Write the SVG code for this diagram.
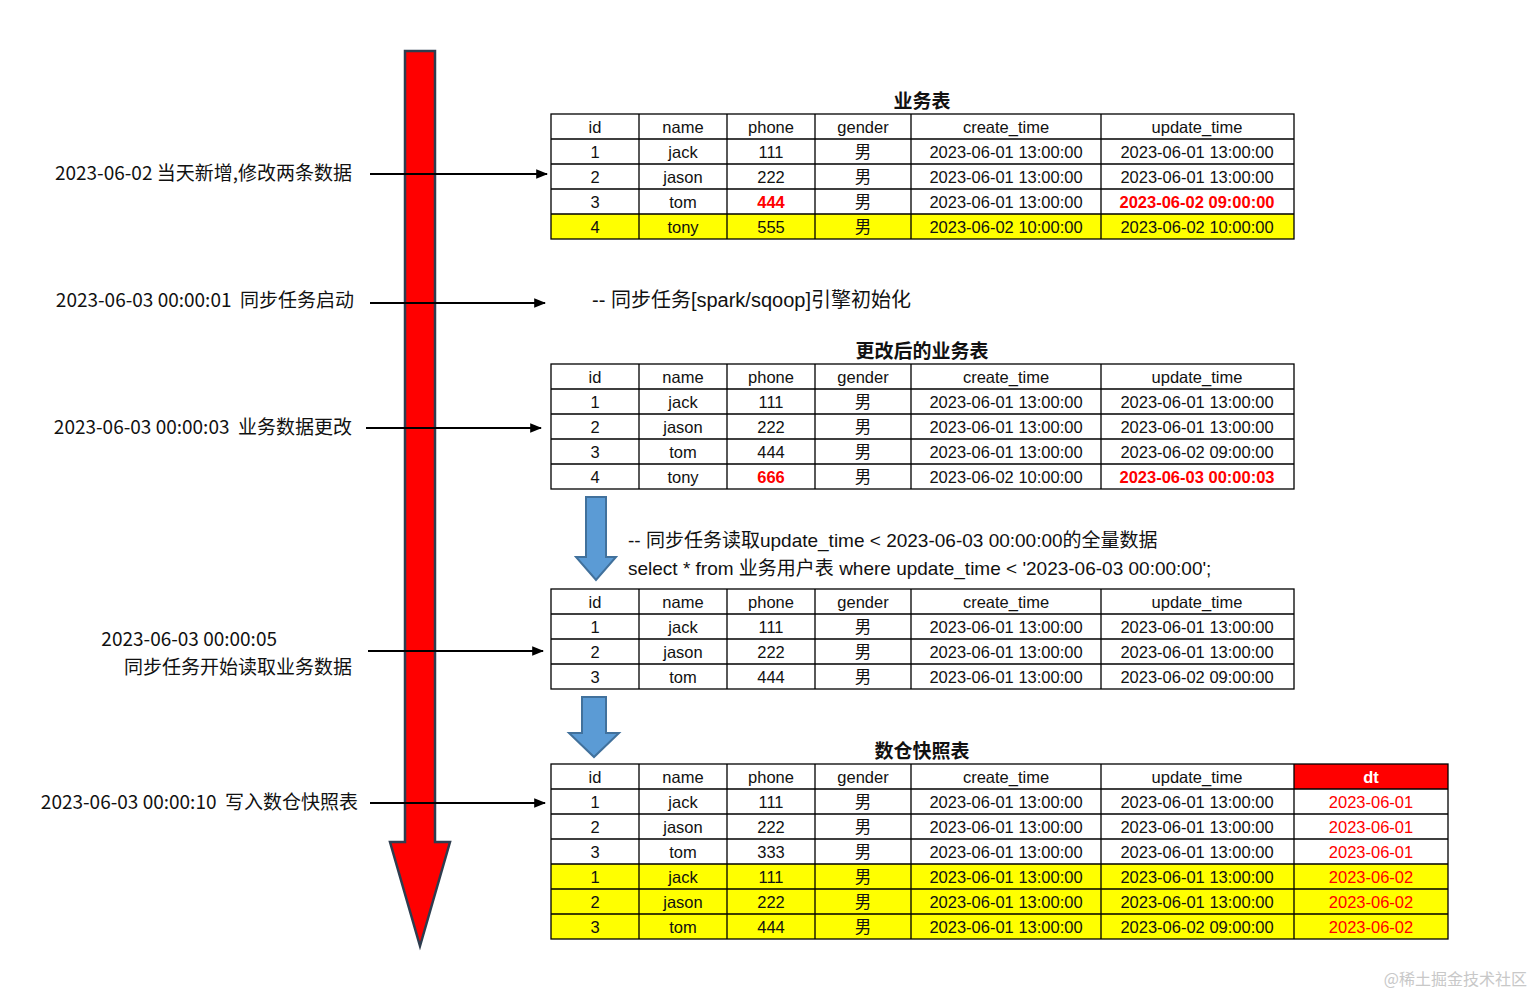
<svg xmlns="http://www.w3.org/2000/svg" width="1535" height="996" viewBox="0 0 1535 996">
<style>
text{font-family:"Liberation Sans","Noto Sans CJK SC",sans-serif;fill:#111}
.c{font-size:16.5px;text-anchor:middle}
.lbl{font-size:19px;text-anchor:end;white-space:pre;font-family:"Noto Sans CJK SC","Liberation Sans",sans-serif}
.ttl{font-size:19px;font-weight:bold;text-anchor:middle;font-family:"Noto Sans CJK SC",sans-serif}
.note{font-size:19px;white-space:pre;font-family:"Liberation Sans","Noto Sans CJK SC",sans-serif}
.red{fill:#ff0000;font-weight:bold}
.dt{fill:#ff0000}
.grid{fill:none;stroke:#000;stroke-width:1.3}
.yel{fill:#ffff00}
.conn{stroke:#000;stroke-width:2;fill:none;marker-end:url(#ah)}
.blue{fill:#5b9bd5;stroke:#41719c;stroke-width:2}
</style>
<defs>
<marker id="ah" viewBox="0 0 10 10" refX="9" refY="5" markerWidth="6" markerHeight="6" markerUnits="strokeWidth" orient="auto"><path d="M0,1 L10,5 L0,9 z" fill="#000"/></marker>
</defs>
<rect width="1535" height="996" fill="#fff"/>

<g id="timeline">
<path d="M405,51 H435 V842 H450 L420,946 L390,842 H405 Z" fill="#ff0000" stroke="#2e3d4f" stroke-width="2.5" stroke-linejoin="miter"/>
</g>

<g id="labels">
<text class="lbl" x="352" y="180" xml:space="preserve">2023-06-02 当天新增,修改两条数据</text>
<text class="lbl" x="354" y="307" xml:space="preserve">2023-06-03 00:00:01  同步任务启动</text>
<text class="lbl" x="352" y="434" xml:space="preserve">2023-06-03 00:00:03  业务数据更改</text>
<text class="lbl" x="277" y="646" xml:space="preserve">2023-06-03 00:00:05</text>
<text class="lbl" x="352" y="674" xml:space="preserve">同步任务开始读取业务数据</text>
<text class="lbl" x="358" y="809" xml:space="preserve">2023-06-03 00:00:10  写入数仓快照表</text>
</g>

<g id="connectors">
<line class="conn" x1="370" y1="174" x2="547" y2="174"/>
<line class="conn" x1="370" y1="303" x2="545" y2="303"/>
<line class="conn" x1="366" y1="428" x2="541" y2="428"/>
<line class="conn" x1="368" y1="651" x2="543" y2="651"/>
<line class="conn" x1="370" y1="803" x2="545" y2="803"/>
<path class="blue" d="M586,497 H606 V557 H616 L596,580 L576,557 H586 Z"/>
<path class="blue" d="M582,697 H606 V733 H619 L594,757 L569,733 H582 Z"/>
</g>

<g id="notes">
<text class="note" x="592" y="307" style="font-size:20px">-- 同步任务[spark/sqoop]引擎初始化</text>
<text class="note" x="628" y="547">-- 同步任务读取update_time &lt; 2023-06-03 00:00:00的全量数据</text>
<text class="note" x="628" y="575">select * from 业务用户表 where update_time &lt; '2023-06-03 00:00:00';</text>
</g>

<g id="table1">
<text class="ttl" x="922" y="108">业务表</text>
<rect class="yel" x="551" y="214" width="743" height="25"/>
<rect class="grid" x="551" y="114" width="743" height="125"/>
<path class="grid" d="M551,139H1294M551,164H1294M551,189H1294M551,214H1294M639,114V239M727,114V239M815,114V239M911,114V239M1101,114V239"/>
<text class="c" x="595" y="133">id</text><text class="c" x="683" y="133">name</text><text class="c" x="771" y="133">phone</text><text class="c" x="863" y="133">gender</text><text class="c" x="1006" y="133">create_time</text><text class="c" x="1197" y="133">update_time</text>
<text class="c" x="595" y="158">1</text><text class="c" x="683" y="158">jack</text><text class="c" x="771" y="158">111</text><text class="c" x="863" y="158">男</text><text class="c" x="1006" y="158">2023-06-01 13:00:00</text><text class="c" x="1197" y="158">2023-06-01 13:00:00</text>
<text class="c" x="595" y="183">2</text><text class="c" x="683" y="183">jason</text><text class="c" x="771" y="183">222</text><text class="c" x="863" y="183">男</text><text class="c" x="1006" y="183">2023-06-01 13:00:00</text><text class="c" x="1197" y="183">2023-06-01 13:00:00</text>
<text class="c" x="595" y="208">3</text><text class="c" x="683" y="208">tom</text><text class="c red" x="771" y="208">444</text><text class="c" x="863" y="208">男</text><text class="c" x="1006" y="208">2023-06-01 13:00:00</text><text class="c red" x="1197" y="208">2023-06-02 09:00:00</text>
<text class="c" x="595" y="233">4</text><text class="c" x="683" y="233">tony</text><text class="c" x="771" y="233">555</text><text class="c" x="863" y="233">男</text><text class="c" x="1006" y="233">2023-06-02 10:00:00</text><text class="c" x="1197" y="233">2023-06-02 10:00:00</text>
</g>

<g id="table2">
<text class="ttl" x="922" y="358">更改后的业务表</text>
<rect class="grid" x="551" y="364" width="743" height="125"/>
<path class="grid" d="M551,389H1294M551,414H1294M551,439H1294M551,464H1294M639,364V489M727,364V489M815,364V489M911,364V489M1101,364V489"/>
<text class="c" x="595" y="383">id</text><text class="c" x="683" y="383">name</text><text class="c" x="771" y="383">phone</text><text class="c" x="863" y="383">gender</text><text class="c" x="1006" y="383">create_time</text><text class="c" x="1197" y="383">update_time</text>
<text class="c" x="595" y="408">1</text><text class="c" x="683" y="408">jack</text><text class="c" x="771" y="408">111</text><text class="c" x="863" y="408">男</text><text class="c" x="1006" y="408">2023-06-01 13:00:00</text><text class="c" x="1197" y="408">2023-06-01 13:00:00</text>
<text class="c" x="595" y="433">2</text><text class="c" x="683" y="433">jason</text><text class="c" x="771" y="433">222</text><text class="c" x="863" y="433">男</text><text class="c" x="1006" y="433">2023-06-01 13:00:00</text><text class="c" x="1197" y="433">2023-06-01 13:00:00</text>
<text class="c" x="595" y="458">3</text><text class="c" x="683" y="458">tom</text><text class="c" x="771" y="458">444</text><text class="c" x="863" y="458">男</text><text class="c" x="1006" y="458">2023-06-01 13:00:00</text><text class="c" x="1197" y="458">2023-06-02 09:00:00</text>
<text class="c" x="595" y="483">4</text><text class="c" x="683" y="483">tony</text><text class="c red" x="771" y="483">666</text><text class="c" x="863" y="483">男</text><text class="c" x="1006" y="483">2023-06-02 10:00:00</text><text class="c red" x="1197" y="483">2023-06-03 00:00:03</text>
</g>

<g id="table3">
<rect class="grid" x="551" y="589" width="743" height="100"/>
<path class="grid" d="M551,614H1294M551,639H1294M551,664H1294M639,589V689M727,589V689M815,589V689M911,589V689M1101,589V689"/>
<text class="c" x="595" y="608">id</text><text class="c" x="683" y="608">name</text><text class="c" x="771" y="608">phone</text><text class="c" x="863" y="608">gender</text><text class="c" x="1006" y="608">create_time</text><text class="c" x="1197" y="608">update_time</text>
<text class="c" x="595" y="633">1</text><text class="c" x="683" y="633">jack</text><text class="c" x="771" y="633">111</text><text class="c" x="863" y="633">男</text><text class="c" x="1006" y="633">2023-06-01 13:00:00</text><text class="c" x="1197" y="633">2023-06-01 13:00:00</text>
<text class="c" x="595" y="658">2</text><text class="c" x="683" y="658">jason</text><text class="c" x="771" y="658">222</text><text class="c" x="863" y="658">男</text><text class="c" x="1006" y="658">2023-06-01 13:00:00</text><text class="c" x="1197" y="658">2023-06-01 13:00:00</text>
<text class="c" x="595" y="683">3</text><text class="c" x="683" y="683">tom</text><text class="c" x="771" y="683">444</text><text class="c" x="863" y="683">男</text><text class="c" x="1006" y="683">2023-06-01 13:00:00</text><text class="c" x="1197" y="683">2023-06-02 09:00:00</text>
</g>

<g id="table4">
<text class="ttl" x="922" y="758">数仓快照表</text>
<rect class="yel" x="551" y="864" width="897" height="75"/>
<rect x="1294" y="764" width="154" height="25" fill="#ff0000"/>
<rect class="grid" x="551" y="764" width="897" height="175"/>
<path class="grid" d="M551,789H1448M551,814H1448M551,839H1448M551,864H1448M551,889H1448M551,914H1448M639,764V939M727,764V939M815,764V939M911,764V939M1101,764V939M1294,764V939"/>
<text class="c" x="595" y="783">id</text><text class="c" x="683" y="783">name</text><text class="c" x="771" y="783">phone</text><text class="c" x="863" y="783">gender</text><text class="c" x="1006" y="783">create_time</text><text class="c" x="1197" y="783">update_time</text><text class="c" x="1371" y="783" style="fill:#fff;font-weight:bold">dt</text>
<text class="c" x="595" y="808">1</text><text class="c" x="683" y="808">jack</text><text class="c" x="771" y="808">111</text><text class="c" x="863" y="808">男</text><text class="c" x="1006" y="808">2023-06-01 13:00:00</text><text class="c" x="1197" y="808">2023-06-01 13:00:00</text><text class="c dt" x="1371" y="808">2023-06-01</text>
<text class="c" x="595" y="833">2</text><text class="c" x="683" y="833">jason</text><text class="c" x="771" y="833">222</text><text class="c" x="863" y="833">男</text><text class="c" x="1006" y="833">2023-06-01 13:00:00</text><text class="c" x="1197" y="833">2023-06-01 13:00:00</text><text class="c dt" x="1371" y="833">2023-06-01</text>
<text class="c" x="595" y="858">3</text><text class="c" x="683" y="858">tom</text><text class="c" x="771" y="858">333</text><text class="c" x="863" y="858">男</text><text class="c" x="1006" y="858">2023-06-01 13:00:00</text><text class="c" x="1197" y="858">2023-06-01 13:00:00</text><text class="c dt" x="1371" y="858">2023-06-01</text>
<text class="c" x="595" y="883">1</text><text class="c" x="683" y="883">jack</text><text class="c" x="771" y="883">111</text><text class="c" x="863" y="883">男</text><text class="c" x="1006" y="883">2023-06-01 13:00:00</text><text class="c" x="1197" y="883">2023-06-01 13:00:00</text><text class="c dt" x="1371" y="883">2023-06-02</text>
<text class="c" x="595" y="908">2</text><text class="c" x="683" y="908">jason</text><text class="c" x="771" y="908">222</text><text class="c" x="863" y="908">男</text><text class="c" x="1006" y="908">2023-06-01 13:00:00</text><text class="c" x="1197" y="908">2023-06-01 13:00:00</text><text class="c dt" x="1371" y="908">2023-06-02</text>
<text class="c" x="595" y="933">3</text><text class="c" x="683" y="933">tom</text><text class="c" x="771" y="933">444</text><text class="c" x="863" y="933">男</text><text class="c" x="1006" y="933">2023-06-01 13:00:00</text><text class="c" x="1197" y="933">2023-06-02 09:00:00</text><text class="c dt" x="1371" y="933">2023-06-02</text>
</g>

<g id="watermark">
<text x="1527" y="985" style="font-size:16px;fill:#c8c8c8;text-anchor:end;font-family:'Noto Sans CJK SC',sans-serif">@稀土掘金技术社区</text>
</g>
</svg>
